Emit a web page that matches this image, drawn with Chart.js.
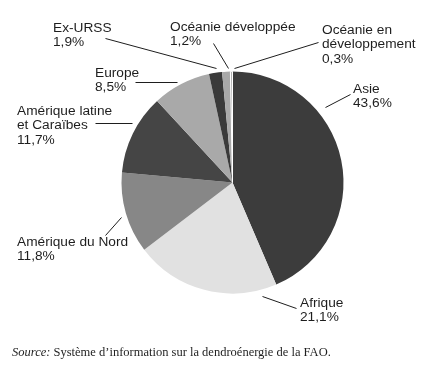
<!DOCTYPE html>
<html><head><meta charset="utf-8">
<script src="https://cdn.jsdelivr.net/npm/chart.js@4"></script>
<style>html,body{margin:0;padding:0;background:#fff;}#wrap{position:relative;width:448px;height:376px;}</style>
</head><body><div id="wrap"><canvas id="c" width="448" height="376" style="width:448px;height:376px"></canvas></div>
<script>
const categories = ['Asie','Afrique','Amérique du Nord','Amérique latine et Caraïbes','Europe','Ex-URSS','Océanie développée','Océanie en développement'];
const shares = [43.6, 21.1, 11.8, 11.7, 8.5, 1.9, 1.2, 0.3];
const sourceLabel = 'Source:';
const sourceText = ' Système d\u2019information sur la dendroénergie de la FAO.';

const sliceColors = ['#3c3c3c','#e1e1e1','#878787','#454545','#a9a9a9','#3a3a3a','#a9a9a9','#b0b0b0'];
const sliceBorders = [0,0,0,0,0,0,0,1];
// label placement (annotation layout)
const labelLayout = [
  {wrap:['Asie'], x:353, y:89, leader:[325,107,350,94]},
  {wrap:['Afrique'], x:300, y:303, leader:[262,296,296,308]},
  {wrap:['Amérique du Nord'], x:17, y:242, leader:[121,217,105,235]},
  {wrap:['Amérique latine','et Caraïbes'], x:17, y:111, leader:[132,123,95,123]},
  {wrap:['Europe'], x:95, y:73, leader:[177,82,135,82]},
  {wrap:['Ex-URSS'], x:53, y:28, leader:[216,68,105,38]},
  {wrap:['Océanie développée'], x:170, y:27, leader:[228,68,213,43]},
  {wrap:['Océanie en','développement'], x:322, y:30, leader:[234,68,318,42]}
];

function fmt(v){ return v.toFixed(1).replace('.', ',') + '%'; }

const labelPlugin = {
  id:'labels',
  afterDraw(chart){
    const ctx = chart.ctx;
    ctx.save();
    ctx.strokeStyle = '#1e1e1e';
    ctx.lineWidth = 1;
    ctx.fillStyle = '#1e1e1e';
    ctx.font = '13.7px "Liberation Sans", Arial, sans-serif';
    ctx.textBaseline = 'middle';
    ctx.textAlign = 'left';
    labelLayout.forEach((L, i) => {
      const [x1,y1,x2,y2] = L.leader;
      ctx.beginPath(); ctx.moveTo(x1+0.5,y1+0.5); ctx.lineTo(x2+0.5,y2+0.5); ctx.stroke();
      const lines = L.wrap.concat([fmt(shares[i])]);
      lines.forEach((t, k) => ctx.fillText(t, L.x, L.y + k*14.5));
    });
    ctx.font = 'italic 12.5px "Liberation Serif", "Times New Roman", serif';
    ctx.fillText(sourceLabel, 12, 353);
    const w = ctx.measureText(sourceLabel).width;
    ctx.font = '12.5px "Liberation Serif", "Times New Roman", serif';
    ctx.fillText(sourceText, 12 + w, 353);
    ctx.restore();
  }
};

new Chart(document.getElementById('c'), {
  type:'pie',
  data:{
    labels: categories,
    datasets:[{
      data: shares,
      backgroundColor: sliceColors,
      borderColor:'#ffffff',
      borderWidth: sliceBorders
    }]
  },
  options:{
    responsive:false,
    animation:false,
    layout:{padding:{left:120, right:103, top:71, bottom:82}},
    plugins:{legend:{display:false}, tooltip:{enabled:false}}
  },
  plugins:[labelPlugin]
});
</script>
</body></html>
